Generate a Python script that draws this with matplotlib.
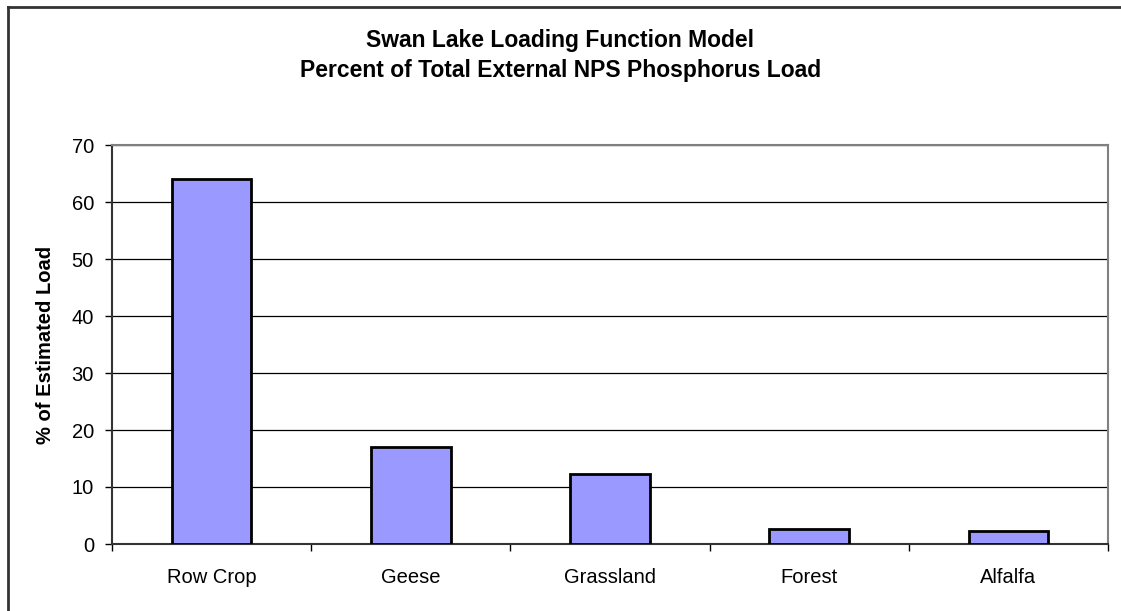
import matplotlib.pyplot as plt
import numpy as np
from matplotlib.lines import Line2D

plt.rcParams['font.family'] = ['Liberation Sans', 'DejaVu Sans']

categories = ["Row Crop", "Geese", "Grassland", "Forest", "Alfalfa"]
load_pct = [64.0, 17.0, 12.2, 2.6, 2.3]
y_ticks = [0, 10, 20, 30, 40, 50, 60, 70]

W, H = 1121, 611
fig = plt.figure(figsize=(W / 100, H / 100), dpi=100)
ax = fig.add_axes([112 / W, 1 - 544 / H, (1108 - 112) / W, (544 - 145) / H])

x = np.arange(len(categories))
ax.bar(x, load_pct, width=0.4, color="#9999FF", edgecolor="black", linewidth=2, zorder=3)

ax.set_xlim(-0.5, len(categories) - 0.5)
ax.set_ylim(0, 70)
ax.set_yticks(y_ticks)
ax.yaxis.grid(True, color="black", linewidth=0.9, zorder=0)

# labels at centres, tick marks between categories
ax.set_xticks(x)
ax.set_xticklabels(categories, fontsize=14.5)
ax.tick_params(axis="x", which="major", length=0, pad=17)
ax.set_xticks(np.arange(-0.5, len(categories)), minor=True)
ax.tick_params(axis="x", which="minor", length=5, width=1, direction="out")
ax.tick_params(axis="y", length=5, width=1, direction="out", labelsize=14.5, pad=8)

for side in ["top", "right"]:
    ax.spines[side].set_color("#808080")
    ax.spines[side].set_linewidth(1.5)
for side in ["left", "bottom"]:
    ax.spines[side].set_color("#333333")
    ax.spines[side].set_linewidth(1.5)

ax.set_ylabel("% of Estimated Load", fontsize=14.5, fontweight="bold")
ax.yaxis.set_label_coords((55 - 112) / (1108 - 112), 0.5)

fig.text(0.5, 1 - 41 / H, "Swan Lake Loading Function Model", ha="center", va="center",
         fontsize=16.5, fontweight="bold")
fig.text(0.5, 1 - 71 / H, "Percent of Total External NPS Phosphorus Load", ha="center", va="center",
         fontsize=16.5, fontweight="bold")

# outer chart border (top and left visible)
fig.add_artist(Line2D([8 / W, 1], [1 - 7 / H, 1 - 7 / H], color="#333333", linewidth=2,
                      transform=fig.transFigure))
fig.add_artist(Line2D([8 / W, 8 / W], [0, 1 - 7 / H], color="#333333", linewidth=2,
                      transform=fig.transFigure))

fig.savefig("out.png", dpi=100)
